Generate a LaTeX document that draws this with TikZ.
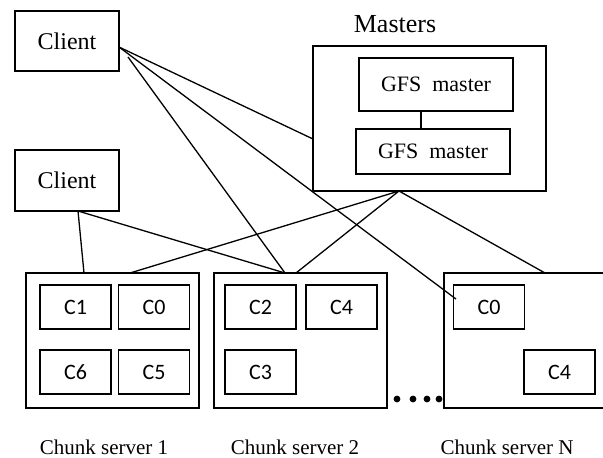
\documentclass[tikz,border=0pt]{standalone}
\usepackage{fontspec}
\setmainfont{Liberation Serif}
\newfontfamily\chunkfont{Carlito}
\usepackage{tikz}

\tikzset{
  box/.style={draw=black,line width=0.7pt,inner sep=0pt},
  chunk/.style={box,minimum width=35.5pt,minimum height=22pt,font=\chunkfont\fontsize{11}{13}\selectfont},
  server/.style={box,minimum width=86.5pt,minimum height=67.5pt},
  caption/.style={font=\fontsize{10.5}{12}\selectfont}
}

\begin{document}
\begin{tikzpicture}[x=0.5pt,y=-0.5pt,line width=0.65pt]
\useasboundingbox (0,0) rectangle (603,457);
\clip (0,0) rectangle (603,457);

\node[box,minimum width=52pt,minimum height=30pt,font=\fontsize{12}{14}\selectfont] (client1) at (67,41) {Client};
\node[box,minimum width=52pt,minimum height=30.5pt,font=\fontsize{12}{14}\selectfont] (client2) at (67,180.5) {Client};

\node[box,minimum width=116.5pt,minimum height=72.5pt] (masters) at (429.5,118.5) {};
\node[font=\fontsize{13}{15}\selectfont] (masterslabel) at (395,24) {Masters};
\node[box,minimum width=77pt,minimum height=26.5pt,font=\fontsize{11}{13}\selectfont] (gfs1) at (436,84.5) {GFS\ \ master};
\node[box,minimum width=77pt,minimum height=22.5pt,font=\fontsize{11}{13}\selectfont] (gfs2) at (433,151.5) {GFS\ \ master};
\draw (gfs1.south -| 421,0) -- (gfs2.north -| 421,0);

\node[server] (server1) at (112.5,340.5) {};
\node[server] (server2) at (300.5,340.5) {};
\node[server] (serverN) at (530.5,340.5) {};

\node[chunk] (s1c1) at (75.5,307) {C1};
\node[chunk] (s1c0) at (154,307) {C0};
\node[chunk] (s1c6) at (75.5,372) {C6};
\node[chunk] (s1c5) at (154,372) {C5};
\node[chunk] (s2c2) at (260.5,307) {C2};
\node[chunk] (s2c4) at (341.5,307) {C4};
\node[chunk] (s2c3) at (260.5,372) {C3};
\node[chunk] (sNc0) at (489,307) {C0};
\node[chunk] (sNc4) at (559.5,372) {C4};

\foreach \x in {397,413,427,439}
  \fill (\x,399) circle (1.7pt);

\node[caption] (cap1) at (104,447) {Chunk server 1};
\node[caption] (cap2) at (295,447) {Chunk server 2};
\node[caption] (capN) at (507,447) {Chunk server N};

\coordinate (c1a) at (119,47);
\coordinate (c1b) at (128,57);
\coordinate (c2a) at (78,211);
\coordinate (ma) at (399,191);
\coordinate (mwest) at (313,139);
\coordinate (s1a) at (84,273);
\coordinate (s1b) at (130,273);
\coordinate (s2a) at (285,273);
\coordinate (s2b) at (296,273);
\coordinate (sNa) at (545,273);
\coordinate (sNc0in) at (456,299);

\draw (c1a) -- (mwest);
\draw (c1a) -- (sNc0in);
\draw (c1b) -- (s2a);
\draw (c2a) -- (s1a);
\draw (c2a) -- (s2a);
\draw (ma) -- (s1b);
\draw (ma) -- (s2b);
\draw (ma) -- (sNa);
\end{tikzpicture}
\end{document}
